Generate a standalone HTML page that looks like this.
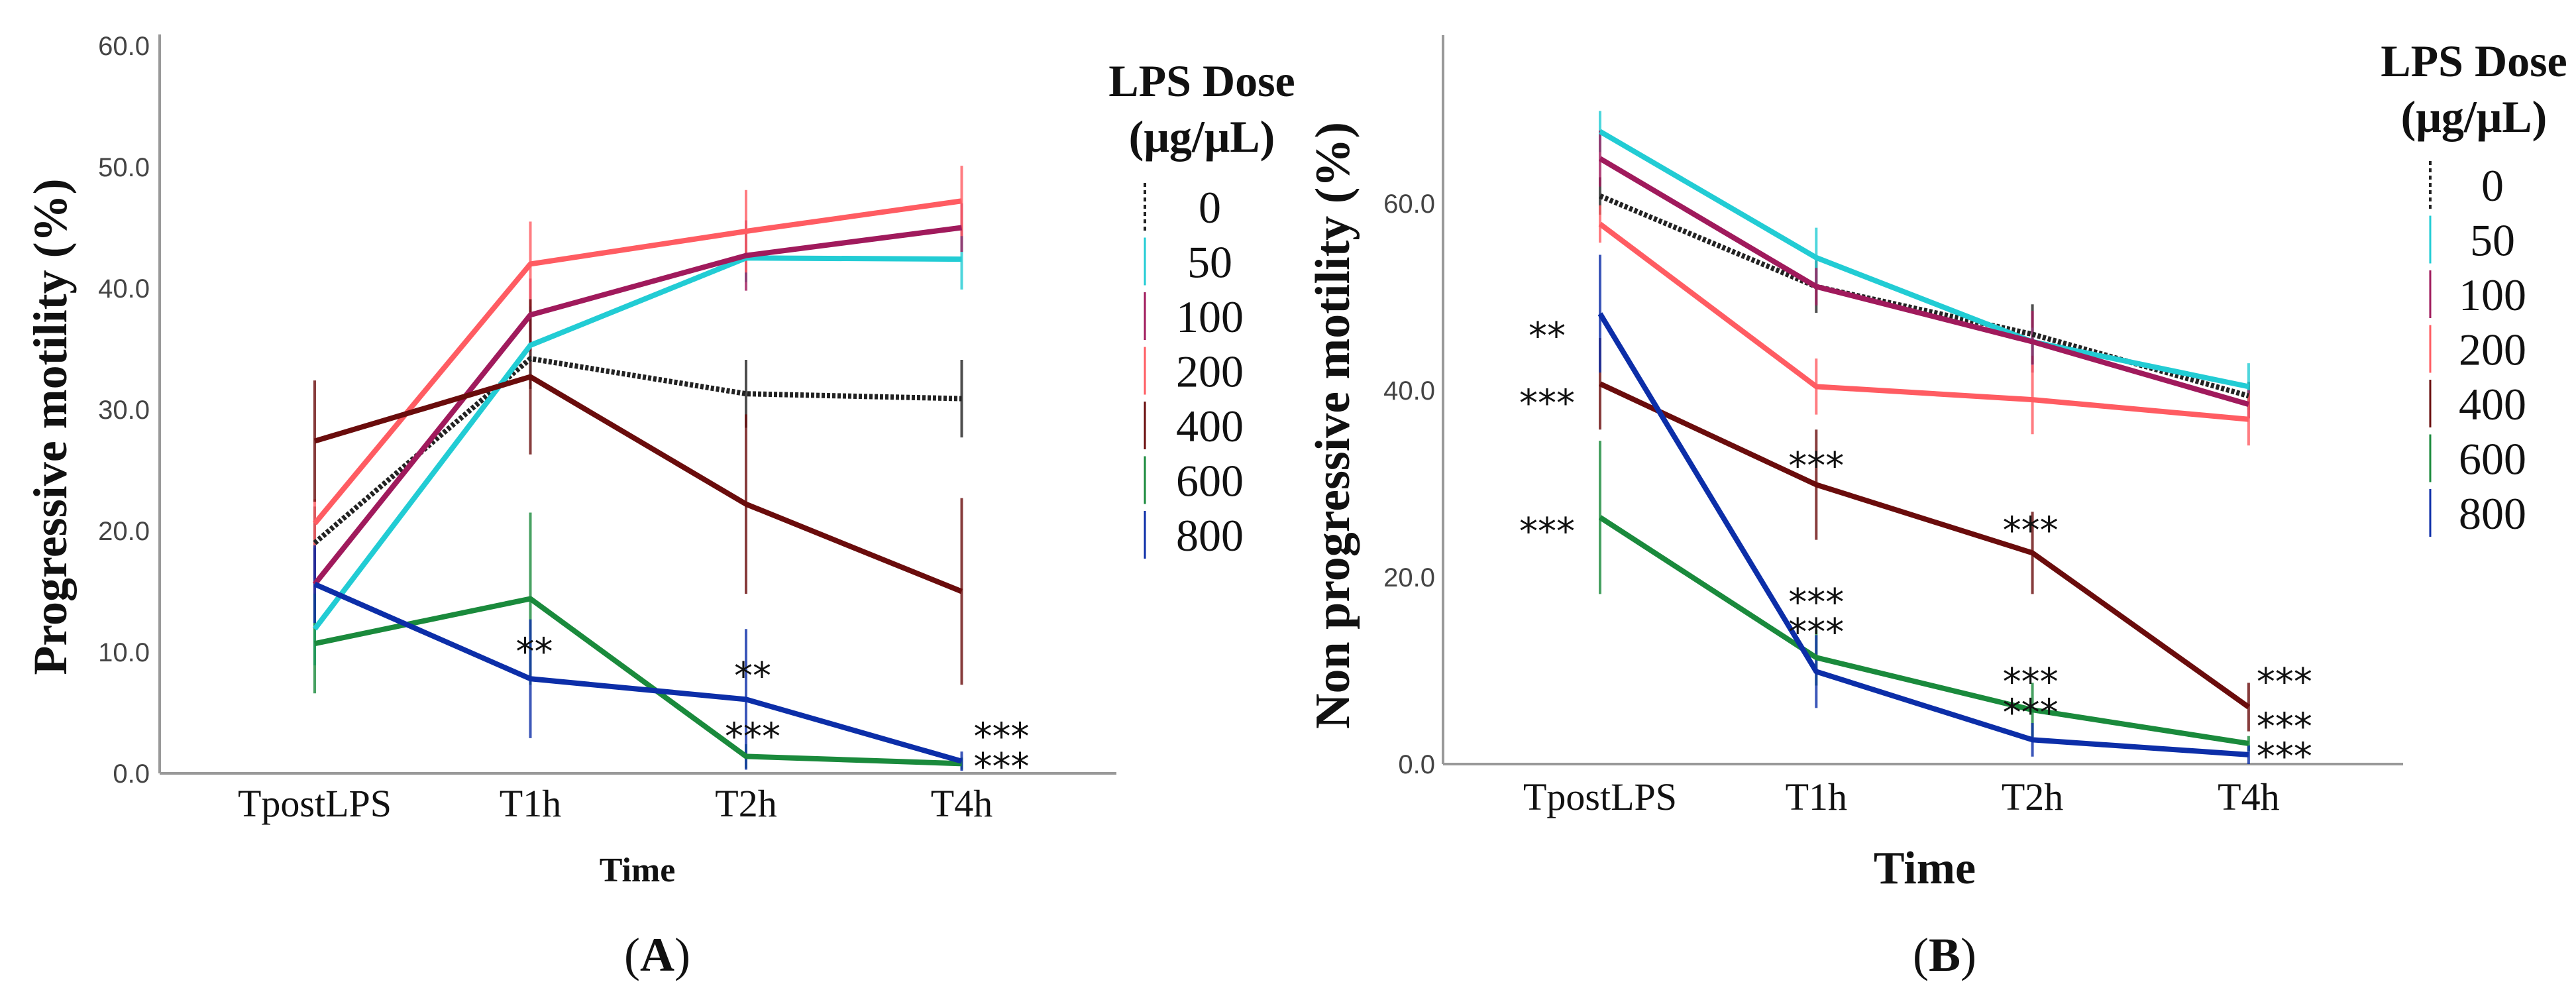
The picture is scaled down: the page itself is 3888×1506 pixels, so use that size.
<!DOCTYPE html>
<html><head><meta charset="utf-8">
<style>
html,body{margin:0;padding:0;background:#fff;}
svg{display:block;}
.tick{font-family:"Liberation Sans",sans-serif;font-size:40px;fill:#444;}
.cat{font-family:"Liberation Serif",serif;font-size:58px;fill:#111;}
.ttl{font-family:"Liberation Serif",serif;font-weight:bold;fill:#111;}
.leg{font-family:"Liberation Serif",serif;font-size:68px;fill:#111;}
.ast{font-family:"DejaVu Sans",sans-serif;font-size:56px;fill:#111;}
</style></head>
<body>
<svg id="chart" width="3888" height="1506" viewBox="0 0 3888 1506" xmlns="http://www.w3.org/2000/svg">
</svg>
<script>
const categories = ["TpostLPS","T1h","T2h","T4h"];
const doses = ["0","50","100","200","400","600","800"];
const colors = ["#222222","#22ccd4","#a01a5c","#ff5c62","#6a0c0c","#1a8a3c","#0c2ea8"];
const progMean0 = [19.0,34.2,31.3,30.9];
const progMean50 = [11.9,35.3,42.5,42.4];
const progMean100 = [15.6,37.8,42.7,45.0];
const progMean200 = [20.6,42.0,44.7,47.2];
const progMean400 = [27.4,32.7,22.2,15.0];
const progMean600 = [10.7,14.4,1.4,0.8];
const progMean800 = [15.6,7.8,6.1,1.0];
const progErr0 = [3,2.5,2.8,3.2];
const progErr50 = [3,2.5,2,2.5];
const progErr100 = [3,3,2.9,2];
const progErr200 = [2,3.5,3.4,2.9];
const progErr400 = [5,6.4,7.4,7.7];
const progErr600 = [4.1,7.1,1,0.5];
const progErr800 = [3.2,4.9,5.8,0.8];
const nonMean0 = [60.8,51.1,46.0,39.4];
const nonMean50 = [67.7,54.2,45.2,40.4];
const nonMean100 = [64.8,51.1,45.2,38.5];
const nonMean200 = [57.8,40.4,39.0,36.9];
const nonMean400 = [40.7,29.9,22.6,6.1];
const nonMean600 = [26.4,11.4,5.8,2.2];
const nonMean800 = [48.2,9.9,2.6,1.0];
const nonErr0 = [2,2.8,3.2,1.5];
const nonErr50 = [2.2,3.2,1.5,2.5];
const nonErr100 = [3,2,3.3,1.5];
const nonErr200 = [2,3,3.7,2.8];
const nonErr400 = [4.9,5.9,4.4,2.6];
const nonErr600 = [8.2,3,2.9,0.8];
const nonErr800 = [6.3,3.9,1.8,1];
const progTicks = ["0.0","10.0","20.0","30.0","40.0","50.0","60.0"];
const progTickVals = [0,10,20,30,40,50,60];
const nonTicks = ["0.0","20.0","40.0","60.0"];
const nonTickVals = [0,20,40,60];
const progStars = [[1,"**",10.8],[2,"**",8.8],[2,"***",3.8],[3,"***",3.8],[3,"***",1.3]];
const nonStars = [[0,"**",46.8],[0,"***",39.6],[0,"***",25.9],[1,"***",32.9],[1,"***",18.3],[1,"***",15.1],[2,"***",26.0],[2,"***",9.8],[2,"***",6.5],[3,"***",9.8],[3,"***",5.0],[3,"***",1.8]];

const NS="http://www.w3.org/2000/svg";
const svg=document.getElementById('chart');
function mk(tag,attrs,parent,text){const e=document.createElementNS(NS,tag);for(const k in attrs)e.setAttribute(k,attrs[k]);if(text!==undefined)e.textContent=text;(parent||svg).appendChild(e);return e;}

function panel(cfg){
  const g=mk('g',{});
  
  
  const y=v=>cfg.y0-(v/cfg.vmax)*(cfg.y0-cfg.yTop);
  const x=i=>cfg.x0+cfg.step*i;
  const ya=mk('line',{x1:cfg.ax,y1:cfg.axTop,x2:cfg.ax,y2:cfg.y0,stroke:'#999','stroke-width':4},g);
  
  const xa=mk('line',{x1:cfg.ax,y1:cfg.y0,x2:cfg.axRight,y2:cfg.y0,stroke:'#999','stroke-width':4},g);
  
  cfg.tickVals.forEach((v,i)=>{
    const t=mk('text',{x:cfg.tickRight,y:y(v)+14,'text-anchor':'end',class:'tick'},g,cfg.ticks[i]);
    
  });
  categories.forEach((c,i)=>{
    const t=mk('text',{x:x(i),y:cfg.catY,'text-anchor':'middle',class:'cat'},g,c);
    
  });
  cfg.means.forEach((m,s)=>{
    m.forEach((v,i)=>{
      const e=cfg.errs[s][i];
      const l=mk('line',{x1:x(i),x2:x(i),y1:y(v+e),y2:y(Math.max(0,v-e)),stroke:colors[s],'stroke-width':4,opacity:0.8},g);
      
    });
  });
  cfg.means.forEach((m,s)=>{
    const pts=m.map((v,i)=>x(i)+','+y(v)).join(' ');
    const attrs={points:pts,fill:'none',stroke:colors[s],'stroke-width':8,'stroke-linejoin':'round'};
    if(s===0){attrs['stroke-dasharray']='5 3';}
    const p=mk('polyline',attrs,g);
    
  });
  cfg.stars.forEach(st=>{
    const t=mk('text',{x:x(st[0])+cfg.starDx[st[0]],y:y(st[2])+33,'text-anchor':'middle',class:'ast'},g,st[1]);
    
  });
  const yt=mk('text',{x:0,y:0,transform:`translate(${cfg.ytX},${cfg.ytY}) rotate(-90)`,'text-anchor':'middle',class:'ttl','font-size':cfg.ytSize},g,cfg.ytitle);
  
  const xt=mk('text',{x:cfg.xtX,y:cfg.xtY,'text-anchor':'middle',class:'ttl','font-size':cfg.xtSize},g,'Time');
  
  const pl=mk('text',{x:cfg.xtX+30,y:1465,'text-anchor':'middle',class:'ttl','font-size':72,'font-weight':'normal'},g);
  
  mk('tspan',{'font-weight':'normal'},pl,'(');mk('tspan',{'font-weight':'bold'},pl,cfg.label);mk('tspan',{'font-weight':'normal'},pl,')');
  const lg=mk('g',{},g);
  const lt=mk('text',{x:cfg.legX,y:cfg.legY,'text-anchor':'middle',class:'ttl','font-size':68},lg,'LPS Dose');
  
  const lu=mk('text',{x:cfg.legX,y:cfg.legY+84,'text-anchor':'middle',class:'ttl','font-size':68},lg,'(μg/μL)');
  
  doses.forEach((d,s)=>{
    const cy=cfg.legEntryY+s*cfg.legStep;
    const a={x1:cfg.legMarkX,x2:cfg.legMarkX,y1:cy-36,y2:cy+36,stroke:colors[s],'stroke-width':s===0?4:3};
    if(s===0)a['stroke-dasharray']='6 5';
    const m=mk('line',a,lg);
    const t=mk('text',{x:cfg.legTextX,y:cy+24,'text-anchor':'middle',class:'leg'},lg,d);
    
  });
}

panel({name:'panel-a-progressive-motility',label:'A',x0:475,step:325.5,y0:1167,yTop:69,vmax:60,ax:241,axTop:52,axRight:1685,
  ticks:progTicks,tickVals:progTickVals,tickRight:226,catY:1232,
  means:[progMean0,progMean50,progMean100,progMean200,progMean400,progMean600,progMean800],
  errs:[progErr0,progErr50,progErr100,progErr200,progErr400,progErr600,progErr800],
  stars:progStars,starDx:[0,6,10,60],
  ytitle:'Progressive motility (%)',ytX:100,ytY:644,ytSize:72,xtX:962,xtY:1330,xtSize:52,
  legX:1814,legY:145,legEntryY:312,legStep:82.5,legMarkX:1728,legTextX:1826});

panel({name:'panel-b-non-progressive-motility',label:'B',x0:2415,step:326.3,y0:1153,yTop:307,vmax:60,ax:2178,axTop:53,axRight:3627,
  ticks:nonTicks,tickVals:nonTickVals,tickRight:2166,catY:1222,
  means:[nonMean0,nonMean50,nonMean100,nonMean200,nonMean400,nonMean600,nonMean800],
  errs:[nonErr0,nonErr50,nonErr100,nonErr200,nonErr400,nonErr600,nonErr800],
  stars:nonStars,starDx:[-80,0,-3,54],
  ytitle:'Non progressive motility (%)',ytX:2036,ytY:642,ytSize:74,xtX:2905,xtY:1333,xtSize:70,
  legX:3734,legY:115,legEntryY:279,legStep:82.5,legMarkX:3668,legTextX:3762});
</script>
</body></html>
